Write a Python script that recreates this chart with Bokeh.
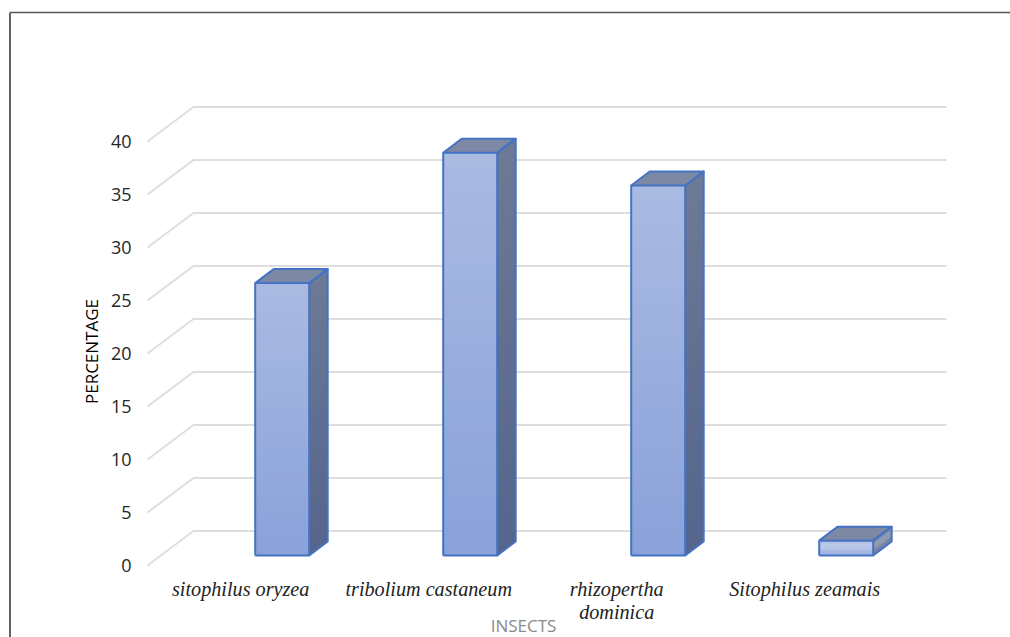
from bokeh.embed import file_html
from bokeh.resources import INLINE
from bokeh.plotting import figure
from bokeh.models import Range1d
from bokeh.core.properties import value

# Percentage of each insect species
categories = ["sitophilus oryzea", "tribolium castaneum", "rhizopertha\ndominica", "Sitophilus zeamais"]
percentages = [25.7, 38.0, 34.9, 1.4]
y_ticks = [0, 5, 10, 15, 20, 25, 30, 35, 40]

W, H = 1010, 637
PX_X = 188.0        # pixels per category
PX_Y = 10.6         # pixels per percentage point
X0, Y0 = 281.7, 555 # pixel position of the first bar centre and of the zero level


def px(x):
    return (x - X0) / PX_X


def dx(n):
    return n / PX_X


def dy(n):
    return n / PX_Y


p = figure(width=W, height=H, output_backend="svg", toolbar_location=None,
           x_range=Range1d(px(0), px(W)), y_range=Range1d(-(H - Y0) / PX_Y, Y0 / PX_Y),
           min_border=0, background_fill_color="white", border_fill_color="white")
p.axis.visible = False
p.grid.visible = False
p.outline_line_color = None

# Outer frame: left and top edges only
p.line([px(9.5), px(9.5)], [dy(Y0 - 637), dy(Y0 - 12)], line_color="#2e2e2e", line_width=1.5)
p.line([px(9.5), px(1010)], [dy(Y0 - 12), dy(Y0 - 12)], line_color="#5a5a5a", line_width=1.5)

# Floor-and-wall gridlines of the 3D box
GRID = "#dedede"
wall_x0, wall_x1, front_x = px(193), px(946), px(147)
wall_up, front_down = dy(24.5), dy(10)
for t in y_ticks:
    p.line([front_x, wall_x0, wall_x1], [t - front_down, t + wall_up, t + wall_up],
           line_color=GRID, line_width=2)

# Bars: front, side and top faces, with gradients built from thin bands
half = dx(27)
DX, DY = dx(18.5), dy(14)
STEPS = 40


def mix(a, b, t):
    return tuple(round(a[i] + (b[i] - a[i]) * t) for i in range(3))


for i, v in enumerate(percentages):
    xl, xr = i - half, i + half
    band = v / STEPS
    for s in range(STEPS):
        lo, hi = s * band, (s + 1) * band + band * 0.15
        t = s / (STEPS - 1)
        front = mix((138, 162, 218), (170, 186, 225), t)
        side = mix((85, 101, 140), (108, 122, 150), t)
        p.quad(left=xl, right=xr, bottom=lo, top=min(hi, v), fill_color=front, line_color=None)
        p.patch([xr, xr + DX, xr + DX, xr], [lo, lo + DY, min(hi, v) + DY, min(hi, v)],
                fill_color=side, line_color=None)
    p.patch([xl, xr, xr + DX, xl + DX], [v, v, v + DY, v + DY], fill_color="#7d88a5", line_color=None)
    # Outlines of the three visible faces
    p.multi_line([[xl, xr, xr, xl, xl], [xl, xl + DX, xr + DX, xr], [xr, xr + DX, xr + DX, xr]],
                 [[0, 0, v, v, 0], [v, v + DY, v + DY, v], [0, DY, v + DY, v]],
                 line_color="#4472c4", line_width=2, line_join="round")

# Value axis labels
p.text(x=[px(131)] * len(y_ticks), y=[t - dy(9.7) for t in y_ticks], text=[str(t) for t in y_ticks],
       text_font=value("Open Sans"), text_font_size="18px", text_color="#262626",
       text_align="right", text_baseline="middle")

# Category labels, centred to the left of their bars
for i, c in enumerate(categories):
    for j, part in enumerate(c.split("\n")):
        p.text(x=[i - dx(41.5)], y=[-dy(33 + 23 * j)], text=[part],
               text_font=value("Liberation Serif"), text_font_style="italic", text_font_size="20.2px",
               text_color="#222222", text_align="center", text_baseline="middle")

# Axis titles
p.text(x=[px(91)], y=[dy(Y0 - 351)], text=["PERCENTAGE"], angle=1.5708,
       text_font=value("Open Sans"), text_font_size="17px", text_color="#000000",
       text_align="center", text_baseline="middle")
p.text(x=[px(523)], y=[dy(Y0 - 625)], text=["INSECTS"],
       text_font=value("Open Sans"), text_font_size="17px", text_color="#8a8a8a",
       text_align="center", text_baseline="middle")

open("out.html", "w").write(file_html(p, INLINE))
